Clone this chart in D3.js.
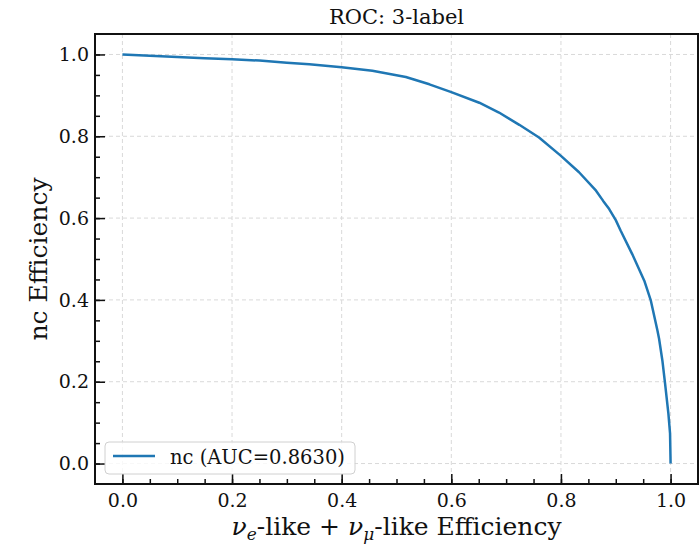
<!DOCTYPE html>
<html>
<head>
<meta charset="utf-8">
<script src="https://cdn.jsdelivr.net/npm/d3@7"></script>
<style>
  body { margin: 0; background: #fff; }
  text { font-family: "DejaVu Serif", serif; fill: #111; }
</style>
</head>
<body>
<div id="chart"></div>
<script>
// Data
const sigEff = [0, 0.05, 0.1, 0.15, 0.2, 0.25, 0.3, 0.341, 0.4, 0.456, 0.517, 0.56, 0.6,
  0.651, 0.687, 0.724, 0.76, 0.8, 0.833, 0.864, 0.877, 0.888, 0.9, 0.909, 0.93, 0.952,
  0.964, 0.976, 0.979, 0.985, 0.99, 0.996, 0.999, 1.0];
const ncEff = [1.0, 0.997, 0.994, 0.991, 0.988, 0.985, 0.98, 0.976, 0.969, 0.96, 0.945, 0.927, 0.908,
  0.882, 0.858, 0.828, 0.797, 0.752, 0.712, 0.667, 0.642, 0.622, 0.595, 0.569, 0.512, 0.447,
  0.398, 0.325, 0.305, 0.252, 0.195, 0.122, 0.074, 0.0];
const tickVals = [0, 0.2, 0.4, 0.6, 0.8, 1.0];
const minorVals = d3.range(0, 21).map(i => i * 0.05);
const legendLabel = "nc (AUC=0.8630)";

const svgWidth = 699;
const svgHeight = 544;
const margin = { top: 34, right: 1, bottom: 60, left: 95 };
const width = svgWidth - margin.left - margin.right;
const height = svgHeight - margin.top - margin.bottom;

const svg = d3.select("#chart").append("svg")
  .attr("width", svgWidth)
  .attr("height", svgHeight);

const g = svg.append("g")
  .attr("transform", `translate(${margin.left}, ${margin.top})`);

const x = d3.scaleLinear().domain([-0.05, 1.05]).range([0, width]);
const y = d3.scaleLinear().domain([-0.05, 1.05]).range([height, 0]);

// grid
g.append("g").selectAll("line").data(tickVals).enter().append("line")
  .attr("x1", d => x(d)).attr("x2", d => x(d))
  .attr("y1", 0).attr("y2", height)
  .attr("stroke", "#d9d9d9").attr("stroke-dasharray", "4,3");
g.append("g").selectAll("line").data(tickVals).enter().append("line")
  .attr("y1", d => y(d)).attr("y2", d => y(d))
  .attr("x1", 0).attr("x2", width)
  .attr("stroke", "#d9d9d9").attr("stroke-dasharray", "4,3");

// axes with inward ticks
const bottomMinor = d3.axisBottom(x).tickValues(minorVals).tickSize(-5).tickFormat("");
const leftMinor = d3.axisLeft(y).tickValues(minorVals).tickSize(-5).tickFormat("");
const bottomAxis = d3.axisBottom(x).tickValues(tickVals).tickSize(-10).tickPadding(10)
  .tickFormat(d3.format(".1f"));
const leftAxis = d3.axisLeft(y).tickValues(tickVals).tickSize(-10).tickPadding(6)
  .tickFormat(d3.format(".1f"));

[bottomMinor, bottomAxis].forEach(ax => {
  g.append("g").attr("transform", `translate(0, ${height})`).call(ax)
    .call(s => s.select(".domain").remove());
});
[leftMinor, leftAxis].forEach(ax => {
  g.append("g").call(ax).call(s => s.select(".domain").remove());
});
g.selectAll(".tick line").attr("stroke", "#111").attr("stroke-width", 1.5);
g.selectAll(".tick text").style("font-family", "DejaVu Serif").style("font-size", "19px").attr("fill", "#111");

// curve
const pts = sigEff.map((v, i) => [v, ncEff[i]]);
g.append("path")
  .datum(pts)
  .attr("fill", "none")
  .attr("stroke", "#1f77b4")
  .attr("stroke-width", 2.5)
  .attr("stroke-linejoin", "round")
  .attr("d", d3.line().x(d => x(d[0])).y(d => y(d[1])));

// frame
g.append("rect")
  .attr("width", width).attr("height", height)
  .attr("fill", "none").attr("stroke", "#111").attr("stroke-width", 2);

// title
svg.append("text")
  .attr("x", margin.left + width / 2).attr("y", 24)
  .attr("text-anchor", "middle")
  .style("font-size", "21px")
  .text("ROC: 3-label");

// y label
svg.append("text")
  .attr("transform", `translate(47, ${margin.top + height / 2}) rotate(-90)`)
  .attr("text-anchor", "middle")
  .style("font-size", "25px")
  .text("nc Efficiency");

// x label
const xl = svg.append("text")
  .attr("x", margin.left + width / 2).attr("y", 535)
  .attr("text-anchor", "middle")
  .style("font-size", "25px");
xl.append("tspan").style("font-style", "italic").text("ν");
xl.append("tspan").style("font-style", "italic").style("font-size", "17px").attr("dy", 5).text("e");
xl.append("tspan").attr("dy", -5).text("-like + ");
xl.append("tspan").style("font-style", "italic").text("ν");
xl.append("tspan").style("font-style", "italic").style("font-size", "17px").attr("dy", 5).text("μ");
xl.append("tspan").attr("dy", -5).text("-like Efficiency");

// legend
const leg = svg.append("g").attr("transform", "translate(105, 442)");
leg.append("rect")
  .attr("width", 250).attr("height", 32).attr("rx", 4)
  .attr("fill", "#fff").attr("fill-opacity", 0.8)
  .attr("stroke", "#d0d0d0");
leg.append("line")
  .attr("x1", 8).attr("x2", 50).attr("y1", 14).attr("y2", 14)
  .attr("stroke", "#1f77b4").attr("stroke-width", 2.5);
leg.append("text")
  .attr("x", 65).attr("y", 22)
  .style("font-size", "19.5px")
  .text(legendLabel);
</script>
</body>
</html>
